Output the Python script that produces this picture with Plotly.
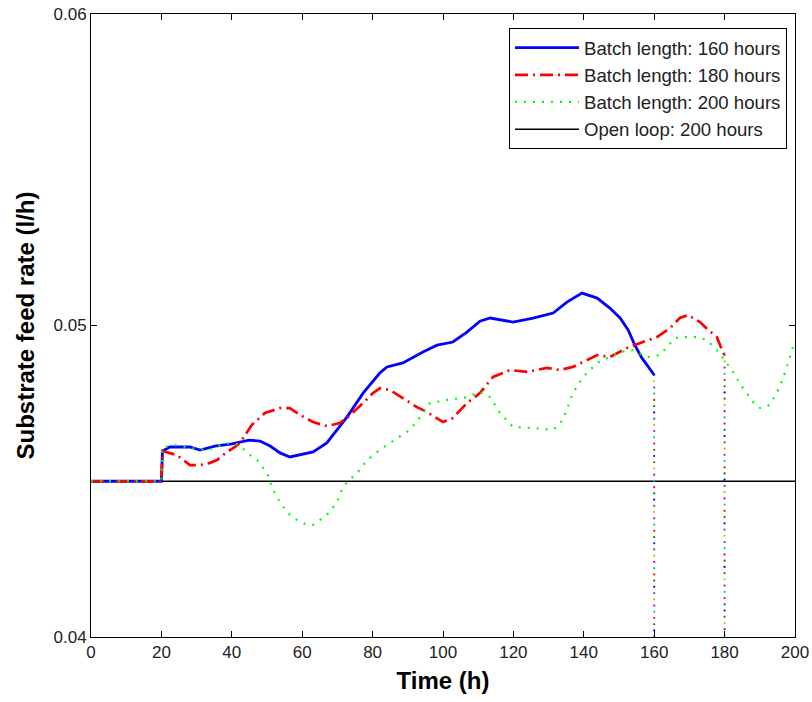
import numpy as np
import plotly.graph_objects as go

# ---- data (time in hours, substrate feed rate in l/h) ----
t_160 = [0, 20, 20.3, 22.4, 28.1, 31.0, 35.2, 40.1, 44.9, 48.0, 50.9, 53.7, 56.5, 63.1, 67.0,
         72.7, 77.3, 82.1, 84.1, 88.6, 94.3, 98.3, 102.8, 106.8, 110.5, 113.4, 119.9, 125.6,
         131.3, 135.2, 139.5, 143.8, 147.4, 150.3, 152.6, 154.5, 156.5, 160.0]
f_160 = [0.04500, 0.04500, 0.04597, 0.04610, 0.04610, 0.04600, 0.04613, 0.04620, 0.04632,
         0.04629, 0.04613, 0.04591, 0.04578, 0.04594, 0.04623, 0.04706, 0.04783, 0.04848,
         0.04867, 0.04880, 0.04915, 0.04937, 0.04947, 0.04979, 0.05014, 0.05024, 0.05011,
         0.05024, 0.05040, 0.05075, 0.05104, 0.05088, 0.05056, 0.05024, 0.04986, 0.04937,
         0.04896, 0.04841]

t_180 = [0, 20, 20.3, 24.4, 28.1, 31.0, 33.8, 35.8, 38.6, 40.9, 42.3, 45.7, 49.4, 53.7, 56.5,
         59.4, 63.1, 67.0, 70.7, 73.0, 77.3, 80.1, 82.1, 84.9, 88.6, 92.6, 95.5, 100.0, 102.8,
         106.8, 110.5, 114.2, 119.0, 123.9, 129.5, 133.2, 136.9, 139.8, 143.8, 147.4, 152.3,
         156.8, 160.8, 164.5, 167.3, 169.6, 173.0, 175.3, 177.8, 179.5, 180.0]
f_180 = [0.04500, 0.04500, 0.04597, 0.04584, 0.04552, 0.04552, 0.04559, 0.04568, 0.04594,
         0.04610, 0.04623, 0.04681, 0.04719, 0.04735, 0.04735, 0.04713, 0.04690, 0.04677,
         0.04687, 0.04706, 0.04751, 0.04783, 0.04799, 0.04793, 0.04767, 0.04738, 0.04722,
         0.04690, 0.04703, 0.04751, 0.04783, 0.04835, 0.04857, 0.04851, 0.04864, 0.04857,
         0.04867, 0.04883, 0.04905, 0.04899, 0.04928, 0.04947, 0.04963, 0.04992, 0.05024,
         0.05034, 0.05011, 0.04986, 0.04963, 0.04915, 0.04905]

t_200 = [0, 20, 20.3, 24.4, 28.1, 33.0, 35.8, 37.5, 40.3, 42.3, 44.3, 47.2, 50.0, 50.9, 51.7,
         53.7, 55.7, 57.4, 61.4, 63.1, 65.1, 67.0, 69.9, 71.6, 73.6, 75.6, 77.3, 79.3, 81.3,
         84.9, 90.6, 93.5, 96.3, 101.1, 106.8, 110.5, 113.4, 116.2, 119.9, 125.6, 131.3,
         134.1, 136.9, 139.8, 143.8, 146.6, 150.3, 154.0, 158.0, 161.6, 165.9, 169.3, 172.2,
         175.0, 177.8, 179.5, 182.4, 185.2, 188.1, 190.1, 192.9, 195.7, 197.7, 199.4, 200.0]
f_200 = [0.04500, 0.04500, 0.04610, 0.04616, 0.04607, 0.04600, 0.04610, 0.04620, 0.04623,
         0.04616, 0.04591, 0.04568, 0.04527, 0.04494, 0.04472, 0.04433, 0.04401, 0.04382,
         0.04360, 0.04360, 0.04376, 0.04392, 0.04433, 0.04482, 0.04507, 0.04526, 0.04552,
         0.04575, 0.04594, 0.04623, 0.04665, 0.04706, 0.04751, 0.04761, 0.04770, 0.04787,
         0.04770, 0.04719, 0.04674, 0.04671, 0.04665, 0.04697, 0.04783, 0.04835, 0.04880,
         0.04896, 0.04915, 0.04921, 0.04899, 0.04905, 0.04960, 0.04963, 0.04963, 0.04953,
         0.04921, 0.04896, 0.04851, 0.04799, 0.04754, 0.04735, 0.04745, 0.04803, 0.04867,
         0.04931, 0.04953]

t_open = [0, 200]
f_open = [0.045, 0.045]

x_ticks = [0, 20, 40, 60, 80, 100, 120, 140, 160, 180, 200]
y_ticks = [0.04, 0.05, 0.06]
y_tick_labels = ["0.04", "0.05", "0.06"]

FONT = "Liberation Sans, Arial, sans-serif"

fig = go.Figure()

# open loop (drawn first so it sits underneath)
fig.add_trace(go.Scatter(x=t_open, y=f_open, mode="lines", name="Open loop: 200 hours",
                         line=dict(color="black", width=1.5), legendrank=4))

# multicoloured dotted end-of-batch markers (MATLAB stem style)
stem_colors = ["#5a5a5a", "#bfbf00", "#bf00bf", "#00bfbf", "#ff0000", "#008000", "#0000ff"]
for tx, ftop in [(t_160[-1], f_160[-1]), (t_180[-1], f_180[-1])]:
    ys = np.arange(ftop, 0.04, -0.0002)
    cols = [stem_colors[i % len(stem_colors)] for i in range(len(ys))]
    fig.add_trace(go.Scatter(x=[tx] * len(ys), y=ys, mode="markers",
                             marker=dict(size=2.2, color=cols, line=dict(width=0)),
                             showlegend=False, hoverinfo="skip", cliponaxis=False))

fig.add_trace(go.Scatter(x=t_160, y=f_160, mode="lines", name="Batch length: 160 hours",
                         line=dict(color="#0000ff", width=2.8), legendrank=1))
fig.add_trace(go.Scatter(x=t_180, y=f_180, mode="lines", name="Batch length: 180 hours",
                         line=dict(color="#ff0000", width=2.7, dash="13px,5px,2px,5px"),
                         legendrank=2))
fig.add_trace(go.Scatter(x=t_200, y=f_200, mode="lines", name="Batch length: 200 hours",
                         line=dict(color="#00ff00", width=2.2, dash="2px,7px"),
                         legendrank=3))

axis_common = dict(showline=True, linecolor="black", linewidth=1, mirror="ticks",
                   ticks="inside", ticklen=6, tickcolor="black", showgrid=False,
                   zeroline=False, automargin=False,
                   tickfont=dict(family=FONT, size=17, color="#222"))

fig.update_xaxes(range=[0, 200], tickvals=x_ticks, **axis_common,
                 title=dict(text="Time (h)", font=dict(family=FONT, size=24, color="black",
                                                       weight="bold"),
                            standoff=10))
fig.update_yaxes(range=[0.04, 0.06], tickvals=y_ticks, ticktext=y_tick_labels, **axis_common,
                 title=dict(text="Substrate feed rate (l/h)",
                            font=dict(family=FONT, size=24, color="black", weight="bold"),
                            standoff=12))

fig.update_layout(
    width=812, height=702,
    margin=dict(l=91, r=17, t=14, b=65, autoexpand=False),
    paper_bgcolor="white", plot_bgcolor="white",
    font=dict(family=FONT),
    legend=dict(x=0.9886, xanchor="right", y=0.9775, yanchor="top",
                bgcolor="white", bordercolor="black", borderwidth=1,
                font=dict(family=FONT, size=18.6, color="#222"),
                itemwidth=64),
)

fig.write_html("out.html")
